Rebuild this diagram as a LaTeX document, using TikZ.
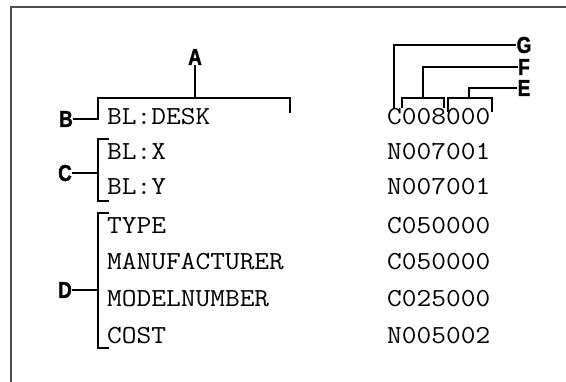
\documentclass[tikz,border=0pt]{standalone}
\usepackage{fontspec}
\newfontfamily\codefont[FakeStretch=1.1]{Latin Modern Mono}
\newfontfamily\lblfont[FakeStretch=0.82,FakeBold=1.5]{Liberation Sans Bold}
\begin{document}
\begin{tikzpicture}[x=1pt,y=-1pt,
  code/.style={font=\codefont\fontsize{26}{26}\selectfont, anchor=base west, inner sep=0pt},
  lbl/.style={font=\lblfont\fontsize{23}{23}\selectfont, inner sep=1pt},
  brk/.style={line width=1.7pt, line cap=rect},
  frame/.style={line width=1.6pt, black!70}]
\useasboundingbox (0,0) rectangle (566,382);
\draw[frame] (11,382) -- (11,7) -- (566,7);
% left column
\node[code] (desk) at (107,125) {BL:DESK};
\node[code] (x) at (107,160) {BL:X};
\node[code] (y) at (107,195) {BL:Y};
\node[code] (type) at (107,234) {TYPE};
\node[code] (manu) at (107,270) {MANUFACTURER};
\node[code] (model) at (107,307) {MODELNUMBER};
\node[code] (cost) at (107,344) {COST};
% right column
\node[code] (c1) at (387,125) {C008000};
\node[code] (c2) at (387,160) {N007001};
\node[code] (c3) at (387,195) {N007001};
\node[code] (c4) at (387,234) {C050000};
\node[code] (c5) at (387,270) {C050000};
\node[code] (c6) at (387,307) {C025000};
\node[code] (c7) at (387,344) {N005002};
% labels
\node[lbl] (A) at (195,57) {A};
\node[lbl] (B) at (66,119) {B};
\node[lbl] (C) at (65,173) {C};
\node[lbl] (D) at (65,290) {D};
\node[lbl] (G) at (524,45) {G};
\node[lbl] (F) at (524,67) {F};
\node[lbl] (E) at (524,88) {E};
% A / B bracket
\coordinate (al) at (98,98);
\coordinate (ar) at (290,98);
\coordinate (arb) at (290,112);
\coordinate (bl) at (98,119);
\draw[brk] (A.south) -- (A.south |- al);
\draw[brk] (B.east) -- (bl) -- (al) -- (ar) -- (arb);
% C bracket
\coordinate (ct) at (98,139);
\coordinate (cb) at (98,201);
\draw[brk] (108,139) -- (ct) -- (cb) -- (108,201);
\draw[brk] (C.east) -- (C.east -| ct);
% D bracket
\coordinate (dt) at (98,213);
\coordinate (db) at (98,348);
\draw[brk] (108,213) -- (dt) -- (db) -- (108,348);
\draw[brk] (D.east) -- (D.east -| dt);
% G
\coordinate (gc) at (394,107);
\draw[brk] (G.west) -| (gc);
% F bracket
\coordinate (fl) at (402,98);
\coordinate (fr) at (444,98);
\coordinate (fm) at (423,98);
\draw[brk] (402,107) -- (fl) -- (fr) -- (444,107);
\draw[brk] (F.west) -| (fm);
% E bracket
\coordinate (el) at (448,98);
\coordinate (er) at (492,98);
\coordinate (em) at (469,98);
\draw[brk] (448,111) -- (el) -- (er) -- (492,111);
\draw[brk] (E.west) -| (em);
\end{tikzpicture}
\end{document}
